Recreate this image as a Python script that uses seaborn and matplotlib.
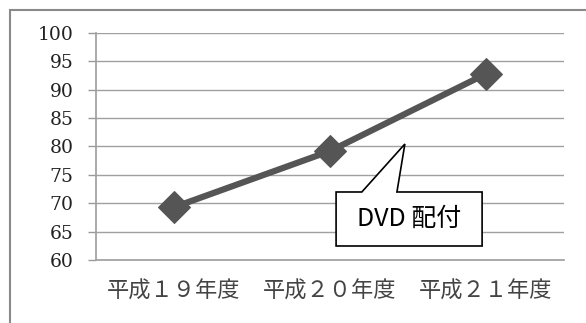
import matplotlib
matplotlib.use("Agg")
import matplotlib.pyplot as plt
import seaborn as sns
import pandas as pd
from matplotlib.patches import Polygon, Rectangle

categories = ["平成１９年度", "平成２０年度", "平成２１年度"]
values = [69.3, 79.2, 92.8]
yticks = [60, 65, 70, 75, 80, 85, 90, 95, 100]
callout_text = "DVD 配付"

sns.set_theme(style="white")
plt.rcParams['font.family'] = ['Noto Sans CJK JP', 'DejaVu Sans']

df = pd.DataFrame({"year": categories, "value": values})

fig = plt.figure(figsize=(5.86, 3.23), dpi=100)
fig.patch.set_facecolor("white")
# outer chart frame (left & top visible)
fig.add_artist(Rectangle((10/586, -0.1), 1.5, 1 - 10/323 + 0.1, transform=fig.transFigure,
                         fill=False, edgecolor="#8a8a8a", linewidth=1.5))

ax = fig.add_axes([96/586, 1 - 260/323, 468/586, 227/323])
sns.lineplot(data=df, x="year", y="value", ax=ax, color="#555555", linewidth=4.5,
             marker="D", markersize=16, markeredgecolor="#555555", sort=False)

ax.set_xlim(-0.5, 2.5)
ax.set_ylim(60, 100)
ax.set_yticks(yticks)
ax.set_yticklabels([str(v) for v in yticks], family="DejaVu Serif", fontsize=13.5, color="#222222")
ax.set_xticks(range(len(categories)))
ax.set_xticklabels(categories, fontsize=16, color="#444444")
ax.set_xticks([-0.5, 0.5, 1.5, 2.5], minor=True)
ax.tick_params(axis="x", which="major", length=0, pad=14)
ax.tick_params(axis="x", which="minor", length=6, color="#999999", width=1, direction="out")
ax.tick_params(axis="y", which="major", length=6, color="#999999", width=1, pad=10, left=True)
ax.set_xlabel("")
ax.set_ylabel("")
ax.yaxis.grid(True, color="#a0a0a0", linewidth=1)
ax.set_axisbelow(True)
for s in ["top", "right"]:
    ax.spines[s].set_visible(False)
ax.spines["left"].set_color("#a0a0a0")
ax.spines["bottom"].set_color("#a0a0a0")

# callout
pts = [(0.513, 0.0617), (0.825, 0.0617), (0.825, 0.2996), (0.643, 0.2996),
       (0.660, 0.511), (0.568, 0.2996), (0.513, 0.2996)]
ax.add_patch(Polygon(pts, closed=True, transform=ax.transAxes, facecolor="white",
                     edgecolor="black", linewidth=1.2, zorder=5))
ax.text(0.669, 0.181, callout_text, transform=ax.transAxes, ha="center", va="center",
        fontsize=18, color="black", zorder=6)

fig.savefig("out.png", dpi=100)
